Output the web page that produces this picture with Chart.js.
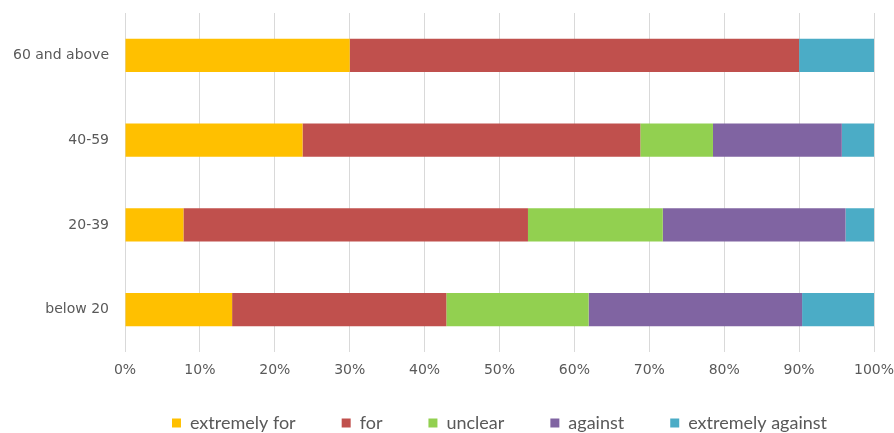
<!DOCTYPE html>
<html>
<head>
<meta charset="utf-8">
<script src="https://cdn.jsdelivr.net/npm/chart.js@4/dist/chart.umd.min.js"></script>
<style>
  html, body { margin: 0; padding: 0; background: #ffffff; }
  #wrap { width: 894px; height: 433px; }
</style>
</head>
<body>
<div id="wrap"><canvas id="chart" width="894" height="433"></canvas></div>
<script>
// Age groups, top to bottom
const ageGroups = ['60 and above', '40-59', '20-39', 'below 20'];

// Share of each answer per age group (percent)
const extremelyFor     = [30.0, 23.7,  7.8, 14.3];
const forIt            = [60.0, 45.1, 46.0, 28.6];
const unclear          = [ 0.0,  9.7, 18.0, 19.0];
const against          = [ 0.0, 17.2, 24.4, 28.5];
const extremelyAgainst = [10.0,  4.3,  3.8,  9.6];

const seriesNames = ['extremely for', 'for', 'unclear', 'against', 'extremely against'];
const seriesColors = ['#FFC000', '#C0504D', '#92D050', '#8064A2', '#4BACC6'];
const seriesValues = [extremelyFor, forIt, unclear, against, extremelyAgainst];

const axisTicks = [0, 10, 20, 30, 40, 50, 60, 70, 80, 90, 100];

const textColor = '#595959';

// Legend: wide gaps between items, but a short strip at the bottom
const legendItemGap = 46;
const legendFontSize = 18;
const legendStripHeight = 48;
const legendTopGap = 29;

const datasets = seriesNames.map((name, i) => ({
  label: name,
  data: seriesValues[i],
  backgroundColor: seriesColors[i],
  borderWidth: 0,
  barPercentage: 0.39,
  categoryPercentage: 1.0
}));

const compactLegend = {
  id: 'compactLegend',
  beforeInit(chart) {
    const lg = chart.legend;
    if (lg) {
      const baseFit = lg.fit;
      lg.fit = function () {
        baseFit.call(this);
        this.height = legendStripHeight;
      };
    }
  },
  afterLayout(chart) {
    const lg = chart.legend;
    if (lg) {
      lg.top -= legendItemGap - legendTopGap;
    }
  }
};

new Chart(document.getElementById('chart'), {
  type: 'bar',
  data: { labels: ageGroups, datasets },
  plugins: [compactLegend],
  options: {
    indexAxis: 'y',
    responsive: false,
    animation: false,
    layout: { padding: { top: 13, right: 0, bottom: 0, left: 0 } },
    scales: {
      x: {
        stacked: true,
        min: 0,
        max: 100,
        afterBuildTicks: (scale) => { scale.ticks = axisTicks.map(v => ({ value: v })); },
        afterFit: (scale) => {
          scale.height = 33;
          scale.paddingLeft = 0;
          scale.paddingRight = 20;
        },
        grid: { color: '#d9d9d9', lineWidth: 1, drawTicks: false },
        border: { display: false },
        ticks: {
          padding: 10,
          color: textColor,
          font: { family: 'DejaVu Sans', size: 14 },
          callback: (v) => v + '%'
        }
      },
      y: {
        stacked: true,
        afterFit: (scale) => {
          scale.width = 125;
          scale.paddingTop = 0;
          scale.paddingBottom = 0;
        },
        grid: { display: false, drawTicks: false },
        border: { display: false },
        ticks: {
          padding: 16,
          color: textColor,
          font: { family: 'DejaVu Sans', size: 14 }
        }
      }
    },
    plugins: {
      legend: {
        position: 'bottom',
        fullSize: false,
        labels: {
          boxWidth: 9,
          boxHeight: 9,
          padding: legendItemGap,
          color: textColor,
          font: { family: 'Lato', size: legendFontSize }
        }
      },
      tooltip: { enabled: false }
    }
  }
});
</script>
</body>
</html>
